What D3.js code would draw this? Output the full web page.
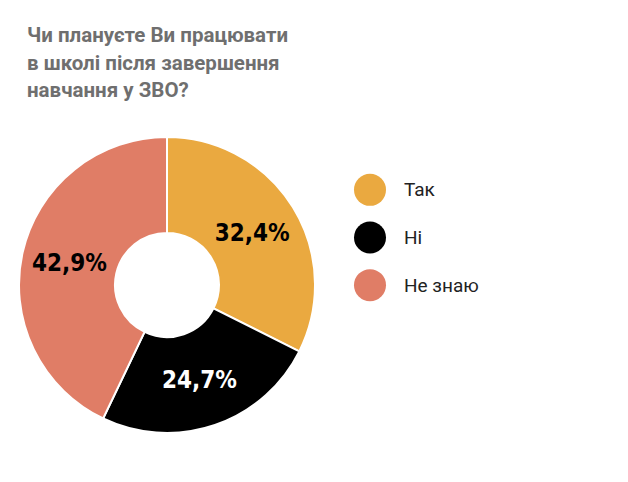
<!DOCTYPE html>
<html><head><meta charset="utf-8">
<script src="https://cdn.jsdelivr.net/npm/d3@7"></script>
<style>body{margin:0;background:#fff}</style></head>
<body><svg id="c" width="628" height="482"></svg>
<script>
const titleLines = ["Чи плануєте Ви працювати","в школі після завершення","навчання у ЗВО?"];
const categories = ["Так","Ні","Не знаю"];
const values = [32.4,24.7,42.9];
const labels = ["32,4%","24,7%","42,9%"];
const colors = ["#EAA940","#000000","#E07D66"];
const labelColors = ["#000","#fff","#000"];

const svg = d3.select("#c");
svg.selectAll("text.t").data(titleLines).enter().append("text")
  .attr("x",27).attr("y",(d,i)=>42+i*27.5)
  .attr("font-family","Roboto, sans-serif").attr("font-weight","bold")
  .attr("font-size",20.5).attr("fill","#6f6f6f").text(d=>d);

const g = svg.append("g").attr("transform","translate(167,285)");
const pie = d3.pie().sort(null)(values);
const arc = d3.arc().innerRadius(52).outerRadius(148);
g.selectAll("path").data(pie).enter().append("path")
  .attr("d",arc).attr("fill",(d,i)=>colors[i])
  .attr("stroke","#fff").attr("stroke-width",2);
const la = d3.arc().innerRadius(100).outerRadius(100);
g.selectAll("text").data(pie).enter().append("text")
  .attr("transform",d=>{const c=la.centroid(d);return `translate(${c[0]},${c[1]})`;})
  .attr("text-anchor","middle").attr("dy","0.35em")
  .attr("font-family","DejaVu Sans, sans-serif").attr("font-stretch","condensed")
  .attr("font-weight","bold").attr("font-size",24)
  .attr("fill",(d,i)=>labelColors[i]).text((d,i)=>labels[i]);

const y = d3.scaleBand().domain(categories).range([166,309]);
const lg = svg.append("g");
lg.selectAll("circle").data(categories).enter().append("circle")
  .attr("cx",370).attr("cy",d=>y(d)+y.bandwidth()/2).attr("r",16)
  .attr("fill",(d,i)=>colors[i]);
lg.selectAll("text").data(categories).enter().append("text")
  .attr("x",404).attr("y",d=>y(d)+y.bandwidth()/2).attr("dy","0.35em")
  .attr("font-family","Roboto, sans-serif").attr("font-size",19)
  .attr("fill","#222").text(d=>d);
</script></body></html>
